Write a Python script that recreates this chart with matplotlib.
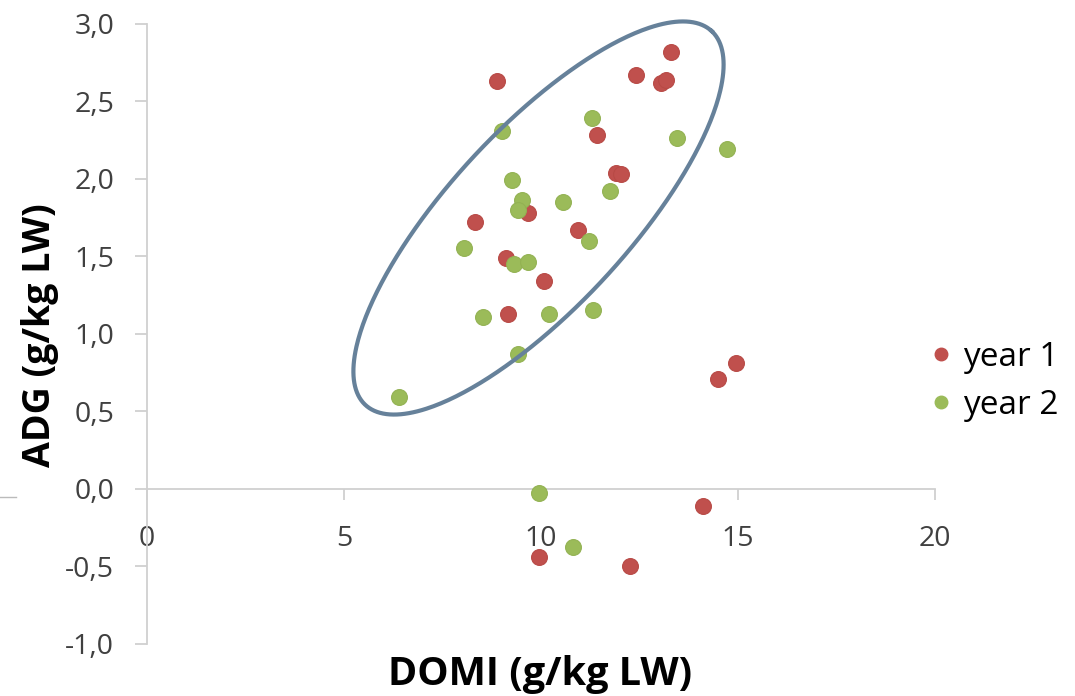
import numpy as np
import matplotlib
matplotlib.use("Agg")
import matplotlib.pyplot as plt
from matplotlib.lines import Line2D

plt.rcParams['font.family'] = ['Open Sans', 'DejaVu Sans']

# ---- data ----
year1_x = [13.30, 12.41, 13.05, 13.18, 8.90, 11.43, 11.92, 12.03, 9.68, 8.32,
           10.95, 9.13, 10.09, 9.18, 14.51, 14.95, 14.12, 9.96, 12.26]
year1_y = [2.82, 2.67, 2.62, 2.64, 2.63, 2.28, 2.04, 2.03, 1.78, 1.72,
           1.67, 1.49, 1.34, 1.13, 0.71, 0.81, -0.11, -0.44, -0.50]
year2_x = [11.29, 9.02, 13.46, 14.74, 9.28, 9.53, 9.41, 11.75, 10.57, 11.22,
           8.04, 9.32, 9.68, 8.53, 10.21, 11.33, 9.42, 6.40, 9.95, 10.82]
year2_y = [2.39, 2.31, 2.26, 2.19, 1.99, 1.86, 1.80, 1.92, 1.85, 1.60,
           1.55, 1.45, 1.46, 1.11, 1.13, 1.15, 0.87, 0.59, -0.03, -0.38]
series_names = ["year 1", "year 2"]
x_ticks = [0, 5, 10, 15, 20]
y_ticks = [-1.0, -0.5, 0.0, 0.5, 1.0, 1.5, 2.0, 2.5, 3.0]
y_tick_labels = ["-1,0", "-0,5", "0,0", "0,5", "1,0", "1,5", "2,0", "2,5", "3,0"]
x_label = "DOMI (g/kg LW)"
y_label = "ADG (g/kg LW)"

RED = "#C0504D"
GREEN = "#9BBB59"
AXIS = "#D0D0D0"
TXT = "#404040"

W, H = 1075, 696
fig = plt.figure(figsize=(W / 100, H / 100), dpi=100)
ax = fig.add_axes([147.0 / W, (H - 643.5) / H, 787.5 / W, 619.7 / H])
ax.set_xlim(0, 20)
ax.set_ylim(-1, 3)

ax.scatter(year1_x, year1_y, s=130, c=RED, edgecolors="#B84A46", linewidths=0.8,
           label=series_names[0], zorder=3)
ax.scatter(year2_x, year2_y, s=130, c=GREEN, edgecolors="#93B253", linewidths=0.8,
           label=series_names[1], zorder=3)

# spines
for s in ["top", "right"]:
    ax.spines[s].set_visible(False)
ax.spines["bottom"].set_position(("data", 0))
ax.spines["bottom"].set_color(AXIS)
ax.spines["left"].set_color(AXIS)
ax.spines["bottom"].set_linewidth(1.3)
ax.spines["left"].set_linewidth(1.3)

ax.set_xticks(x_ticks)
ax.set_xticklabels([str(v) for v in x_ticks])
ax.set_yticks(y_ticks)
ax.set_yticklabels(y_tick_labels)
ax.tick_params(axis="x", direction="out", length=8, width=1.3, color=AXIS,
               pad=18, labelsize=20.5, labelcolor=TXT)
ax.tick_params(axis="y", direction="out", length=8.5, width=1.3, color=AXIS,
               pad=15, labelsize=20.5, labelcolor=TXT)

fig.text(540 / W, 1 - 675 / H, x_label, ha="center", va="center",
         fontsize=28.5, fontweight="bold", color="black")
fig.text(40 / W, 1 - 335 / H, y_label, ha="center", va="center", rotation=90,
         fontsize=27, fontweight="bold", color="black")

# highlighted ellipse (drawn in display pixels, converted to data coords)
cx, cy = 538.5, H - 218.0
a, b, th = 254.8, 89.3, np.deg2rad(47.2)
t = np.linspace(0, 2 * np.pi, 400)
px = cx + a * np.cos(t) * np.cos(th) - b * np.sin(t) * np.sin(th)
py = cy + a * np.cos(t) * np.sin(th) + b * np.sin(t) * np.cos(th)
pts = ax.transData.inverted().transform(np.column_stack([px, py]))
ax.plot(pts[:, 0], pts[:, 1], color="#66819A", lw=3.0, zorder=4, clip_on=False)

# small stray line at the left edge
fig.add_artist(Line2D([0, 16 / W], [1 - 497 / H, 1 - 497 / H], color="#BBBBBB", lw=1.0))

leg = fig.legend(handles=[
    Line2D([], [], ls="none", marker="o", ms=9, mfc=RED, mec=RED),
    Line2D([], [], ls="none", marker="o", ms=9, mfc=GREEN, mec=GREEN)],
    labels=series_names, loc="center left",
    bbox_to_anchor=(928 / W, 1 - 381 / H), frameon=False, fontsize=24,
    handlelength=0.8, handletextpad=0.25, labelspacing=0.45, borderpad=0,
    borderaxespad=0)
for txt in leg.get_texts():
    txt.set_color("black")

fig.savefig("out.png", dpi=100)
